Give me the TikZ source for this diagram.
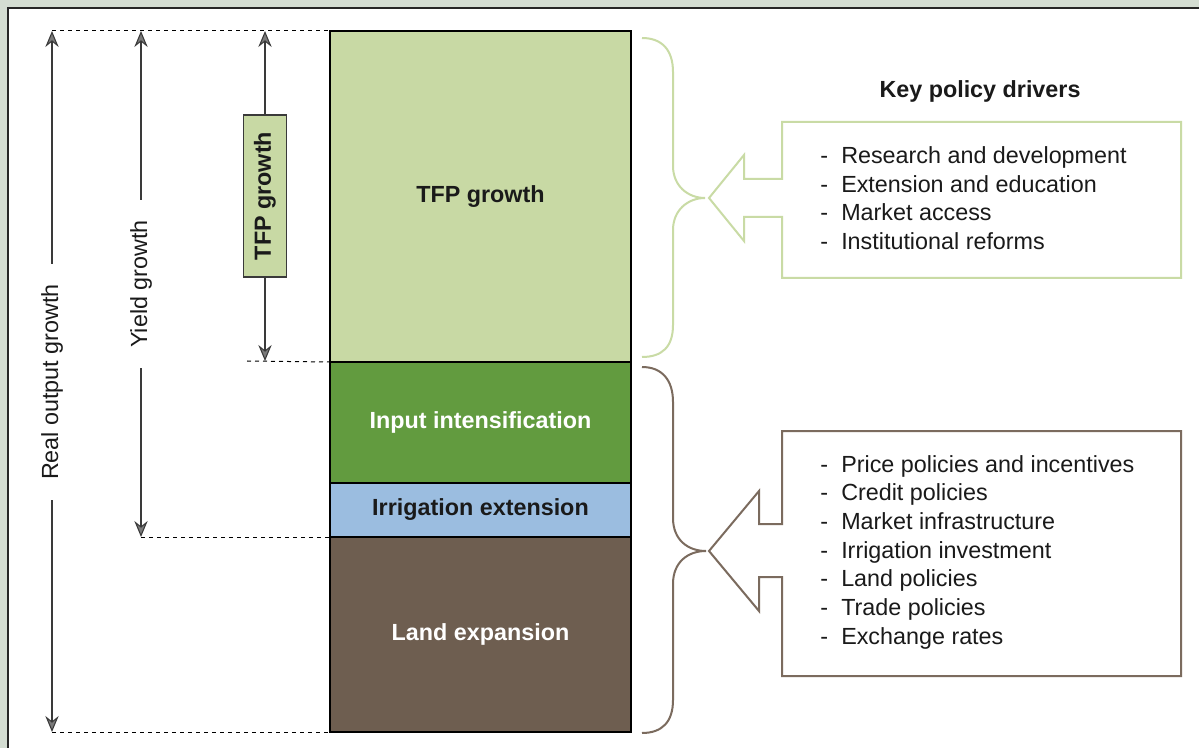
\documentclass[tikz,border=0pt]{standalone}
\usepackage{fontspec}
\setmainfont{Liberation Sans}
\usetikzlibrary{arrows.meta}

\definecolor{panelbg}{HTML}{D4DDD2}
\definecolor{tfpgreen}{HTML}{C8D9A4}
\definecolor{inputgreen}{HTML}{629B3F}
\definecolor{irrblue}{HTML}{9BBDE0}
\definecolor{landbrown}{HTML}{6E5E50}
\definecolor{bracegreen}{HTML}{C9DBA5}
\definecolor{bracebrown}{HTML}{7B6B5E}
\definecolor{tipgrey}{HTML}{7A7A7A}
\definecolor{linegrey}{HTML}{3A3A3A}
\definecolor{textblack}{HTML}{1A1A1A}

\newcommand{\policyitem}[1]{\makebox[15.75pt][l]{-}#1}

\begin{document}
\begin{tikzpicture}[x=0.75pt, y=-0.75pt,
    font=\fontsize{17.5}{21.5}\selectfont, text=textblack,
    block/.style={draw=black, line width=1.5pt, minimum width=225.75pt, inner sep=0pt, outer sep=0pt, anchor=north west, font=\fontsize{17.5}{21.5}\selectfont\bfseries},
    dim/.style={draw=linegrey, line width=0.8pt, -{Stealth[length=12pt, width=10pt, inset=4pt, fill=tipgrey]}},
    guide/.style={draw=black, dash pattern=on 3pt off 3pt, line width=0.75pt},
    dimlabel/.style={rotate=90, inner xsep=15pt, inner ysep=0pt}]
    % Page and panel
    \useasboundingbox (0,0) rectangle (1199,748);
    \fill[panelbg] (0,0) rectangle (1199,748);
    \fill[white] (8,8) rectangle (1199,748);
    \draw[black!85, line width=1.5pt] (8,748) -- (8,8) -- (1199,8);

    % Stacked growth sources
    \node[block, fill=tfpgreen, minimum height=248.25pt] (tfp) at (330,31) {TFP growth};
    \node[block, fill=inputgreen, text=white, minimum height=90.75pt] (input) at (tfp.south west) {Input intensification};
    \node[block, fill=irrblue, minimum height=40.5pt] (irr) at (input.south west) {Irrigation extension};
    \node[block, fill=landbrown, text=white, minimum height=146.25pt] (land) at (irr.south west) {Land expansion};

    % Measuring arrows on the left
    \coordinate (rtop) at (52,31);
    \coordinate (rbot) at (52,732);
    \coordinate (ytop) at (141,31);
    \coordinate (ybot) at (141,537);
    \coordinate (ttop) at (265,31);
    \coordinate (tbot) at (265,361);
    \coordinate (tdash) at (247,361);

    \node[dimlabel] (rlab) at (52,382) {Real output growth};
    \draw[dim] (rlab) -- (rtop);
    \draw[dim] (rlab) -- (rbot);

    \node[dimlabel] (ylab) at (141,284) {Yield growth};
    \draw[dim] (ylab) -- (ytop);
    \draw[dim] (ylab) -- (ybot);

    \node[rotate=90, draw=linegrey, fill=tfpgreen, line width=0.8pt, inner sep=0pt,
          minimum width=121.5pt, minimum height=32.25pt, font=\fontsize{17.5}{21.5}\selectfont\bfseries] (tlab) at (265,196) {TFP growth};
    \draw[dim] (tlab) -- (ttop);
    \draw[dim] (tlab) -- (tbot);

    % Dashed guides to the stack
    \draw[guide] (rtop) -- (tfp.north west);
    \draw[guide] (tdash) -- (input.north west);
    \draw[guide] (ybot) -- (land.north west);
    \draw[guide] (rbot) -- (land.south west);

    % Braces
    \draw[bracegreen, line width=1.5pt] (642,38) .. controls (662,38) and (673,50) .. (673,72) -- (673,166)
        .. controls (673,186) and (688,198) .. (705,198) .. controls (688,198) and (673,210) .. (673,230)
        -- (673,325) .. controls (673,347) and (662,357) .. (642,357);
    \draw[bracebrown, line width=1.5pt] (642,367) .. controls (662,367) and (673,380) .. (673,402) -- (673,518)
        .. controls (673,540) and (688,551) .. (706,551) .. controls (688,551) and (673,562) .. (673,584)
        -- (673,700) .. controls (673,722) and (662,733) .. (642,733);

    % Arrow boxes with the drivers
    \node[font=\fontsize{17.5}{21.5}\selectfont\bfseries] (title) at (980,91) {Key policy drivers};

    \draw[bracegreen, line width=1.5pt] (782,179) -- (744,179) -- (744,155) -- (709,198) -- (744,241)
        -- (744,217) -- (782,217) -- (782,278) -- (1181,278) -- (1181,122) -- (782,122) -- cycle;
    \node[anchor=west, align=left, inner sep=0pt] (list1) at (820,198) {%
        \policyitem{Research and development}\\
        \policyitem{Extension and education}\\
        \policyitem{Market access}\\
        \policyitem{Institutional reforms}};

    \draw[bracebrown, line width=1.5pt] (782,524) -- (759,524) -- (759,491) -- (709,551) -- (759,611)
        -- (759,577) -- (782,577) -- (782,676) -- (1181,676) -- (1181,431) -- (782,431) -- cycle;
    \node[anchor=west, align=left, inner sep=0pt] (list2) at (820,552) {%
        \policyitem{Price policies and incentives}\\
        \policyitem{Credit policies}\\
        \policyitem{Market infrastructure}\\
        \policyitem{Irrigation investment}\\
        \policyitem{Land policies}\\
        \policyitem{Trade policies}\\
        \policyitem{Exchange rates}};
\end{tikzpicture}
\end{document}
